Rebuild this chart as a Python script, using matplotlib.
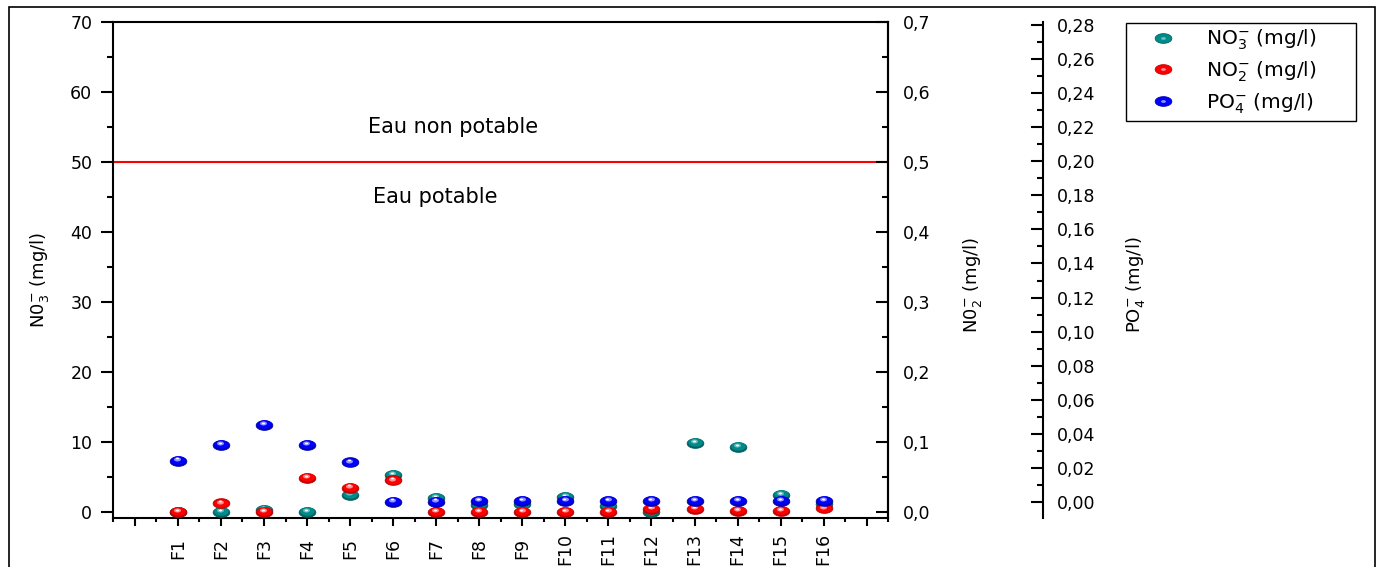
import numpy as np
import matplotlib
matplotlib.use('Agg')
import matplotlib.pyplot as plt
from matplotlib.path import Path
from matplotlib.patches import Rectangle
from matplotlib.lines import Line2D
from matplotlib.ticker import MultipleLocator, FixedLocator, FuncFormatter
from matplotlib.legend_handler import HandlerTuple
import matplotlib.transforms as mtransforms

# ---------------- data ----------------
sites = ['F1', 'F2', 'F3', 'F4', 'F5', 'F6', 'F7', 'F8', 'F9', 'F10',
         'F11', 'F12', 'F13', 'F14', 'F15', 'F16']
no3 = [0.0, 0.0, 0.3, 0.0, 2.45, 5.25, 1.95, 0.95, 1.05, 2.15,
       0.9, 0.0, 9.8, 9.3, 2.4, 1.05]                      # mg/l (left axis)
no2 = [0.0, 0.012, 0.0, 0.048, 0.0345, 0.045, 0.0, 0.0, 0.0, 0.0,
       0.0, 0.004, 0.004, 0.001, 0.001, 0.005]              # mg/l (NO2 axis)
po4 = [0.0244, 0.0336, 0.0453, 0.0336, 0.0234, 0.0004, 0.0004, 0.0008, 0.0008, 0.0008,
       0.0008, 0.0008, 0.0008, 0.0008, 0.0008, 0.0008]     # mg/l (PO4 axis)
limit_no3 = 50
xticks_pos = list(range(0, 18))
xtick_labels = [''] + sites + ['']

plt.rcParams['font.family'] = ['DejaVu Sans']
plt.rcParams['mathtext.fontset'] = 'dejavusans'

W, H = 1382, 567
fig = plt.figure(figsize=(W / 100, H / 100), dpi=100)

# outer frame
fig.add_artist(Rectangle((9 / W, -0.1), (1375 - 9) / W, (1 - 7 / H) + 0.1,
                         transform=fig.transFigure, fill=False, lw=1.2,
                         edgecolor='black', zorder=0))

x0, x1 = 113.3 / W, 888.3 / W
yb, yt = 1 - 518.3 / H, 1 - 22.3 / H
ax = fig.add_axes([x0, yb, x1 - x0, yt - yb])
ax2 = ax.twinx()
ax3 = ax.twinx()

x = np.arange(1, len(sites) + 1)

# ellipse "ball" marker
th = np.linspace(0, 2 * np.pi, 65)
ell = Path(np.column_stack([np.cos(th), 0.58 * np.sin(th)]), closed=True)

MS = 12


def balls(axis, xs, ys, body, edge, hi):
    axis.plot(xs, ys, ls='none', marker=ell, ms=MS, mfc=edge, mec=edge,
              mew=0.6, zorder=3, clip_on=False)
    t0 = mtransforms.offset_copy(axis.transData, fig=fig, x=0, y=0.8, units='dots')
    axis.plot(xs, ys, ls='none', marker=ell, ms=MS - 1.5, mfc=body, mec='none',
              transform=t0, zorder=3.05, clip_on=False)
    t1 = mtransforms.offset_copy(axis.transData, fig=fig, x=-0.8, y=1.8, units='dots')
    axis.plot(xs, ys, ls='none', marker=ell, ms=5.0, mfc=hi, mec='none',
              transform=t1, zorder=3.1, clip_on=False)
    t2 = mtransforms.offset_copy(axis.transData, fig=fig, x=-1.0, y=2.2, units='dots')
    axis.plot(xs, ys, ls='none', marker=ell, ms=2.2, mfc='white', mec='none',
              transform=t2, zorder=3.2, clip_on=False)


col_no3 = ('#008b8b', '#005f5f', '#6fbcbc')
col_no2 = ('#ff0000', '#c00000', '#ff9090')
col_po4 = ('#0000ff', '#0000b0', '#9090ff')

balls(ax, x, no3, *col_no3)
balls(ax2, x, no2, *col_no2)
balls(ax3, x, po4, *col_po4)

# limit line and annotations
ax.axhline(limit_no3, color='red', lw=1.5, zorder=2)
ax.text(7.39, 55.0, 'Eau non potable', ha='center', va='center', fontsize=15)
ax.text(6.97, 45.06, 'Eau potable', ha='center', va='center', fontsize=15)

# limits
ax.set_xlim(-0.5, 17.5)
ax.set_ylim(-0.93, 70.0)
ax2.set_ylim(-0.0093, 0.70)
ax3.set_ylim(-0.00937, 0.28135)

# spines
for a in (ax, ax2, ax3):
    for s in a.spines.values():
        s.set_linewidth(1.5)
for s in ('top', 'bottom', 'left'):
    ax2.spines[s].set_visible(False)
    ax3.spines[s].set_visible(False)
ax3.spines['right'].set_position(('axes', 1.2))

# x axis
ax.xaxis.set_major_locator(FixedLocator(xticks_pos))
ax.xaxis.set_minor_locator(FixedLocator(np.arange(-0.5, 18, 1.0)))
ax.set_xticklabels(xtick_labels, rotation=90, va='center', fontsize=12.5)
ax.tick_params(axis='x', which='major', direction='out', length=6, width=1.5, pad=16)
ax.tick_params(axis='x', which='minor', direction='out', length=3, width=1.5)

# left axis
ax.yaxis.set_major_locator(MultipleLocator(10))
ax.yaxis.set_minor_locator(MultipleLocator(5))
ax.yaxis.set_major_formatter(FuncFormatter(lambda v, p: f'{v:.0f}'))
ax.tick_params(axis='y', which='major', direction='out', length=8.6, width=1.5,
               pad=6.5, labelsize=12.5)
ax.tick_params(axis='y', which='minor', direction='out', length=4.3, width=1.5)

# NO2 axis
ax2.yaxis.set_major_locator(MultipleLocator(0.1))
ax2.yaxis.set_minor_locator(MultipleLocator(0.05))
ax2.yaxis.set_major_formatter(FuncFormatter(lambda v, p: f'{v:.1f}'.replace('.', ',')))
ax2.tick_params(axis='y', which='major', direction='in', length=8.6, width=1.5,
                pad=10.5, labelsize=12.5)
ax2.tick_params(axis='y', which='minor', direction='in', length=4.3, width=1.5)

# PO4 axis
ax3.yaxis.set_major_locator(MultipleLocator(0.02))
ax3.yaxis.set_minor_locator(MultipleLocator(0.01))
ax3.yaxis.set_major_formatter(FuncFormatter(lambda v, p: f'{v:.2f}'.replace('.', ',')))
ax3.tick_params(axis='y', which='major', direction='in', length=8.6, width=1.5,
                pad=10, labelsize=12.5)
ax3.tick_params(axis='y', which='minor', direction='in', length=4.3, width=1.5)

# axis labels
axw = 775.0
axh = 496.0
ax.set_ylabel(r'N0$_3^{-}$ (mg/l)', fontsize=13)
ax.yaxis.set_label_coords((40 - 113.3) / axw, (518.3 - 280) / axh)
ax.yaxis.label.set_va('center')
ax2.set_ylabel(r'N0$_2^{-}$ (mg/l)', fontsize=13, rotation=90)
ax2.yaxis.set_label_coords((972 - 113.3) / axw, (518.3 - 285) / axh)
ax2.yaxis.label.set_va('center')
ax3.set_ylabel(r'PO$_4^{-}$ (mg/l)', fontsize=13, rotation=90)
ax3.yaxis.set_label_coords((1135 - 113.3) / axw, (518.3 - 285) / axh)
ax3.yaxis.label.set_va('center')

# legend
def handle(body, edge, hi):
    b = Line2D([], [], ls='none', marker=ell, ms=MS, mfc=body, mec=edge, mew=0.6)
    h = Line2D([], [], ls='none', marker=ell, ms=3.5, mfc=hi, mec='none')
    return (b, h)

handles = [handle(*col_no3), handle(*col_no2), handle(*col_po4)]
labels = [r'NO$_3^{-}$ (mg/l)', r'NO$_2^{-}$ (mg/l)', r'PO$_4^{-}$ (mg/l)']
leg = fig.legend(handles, labels, loc='upper left',
                 bbox_to_anchor=(1126 / W, 1 - 22.7 / H, 230 / W, 0.0),
                 mode='expand', borderaxespad=0, fontsize=14.5,
                 handler_map={tuple: HandlerTuple(ndivide=1)},
                 handlelength=3.2, handletextpad=0.5, borderpad=0.25,
                 labelspacing=0.36, fancybox=False, shadow=False,
                 framealpha=1, edgecolor='black')
leg.get_frame().set_linewidth(1.0)

fig.savefig('out.png', dpi=100)
